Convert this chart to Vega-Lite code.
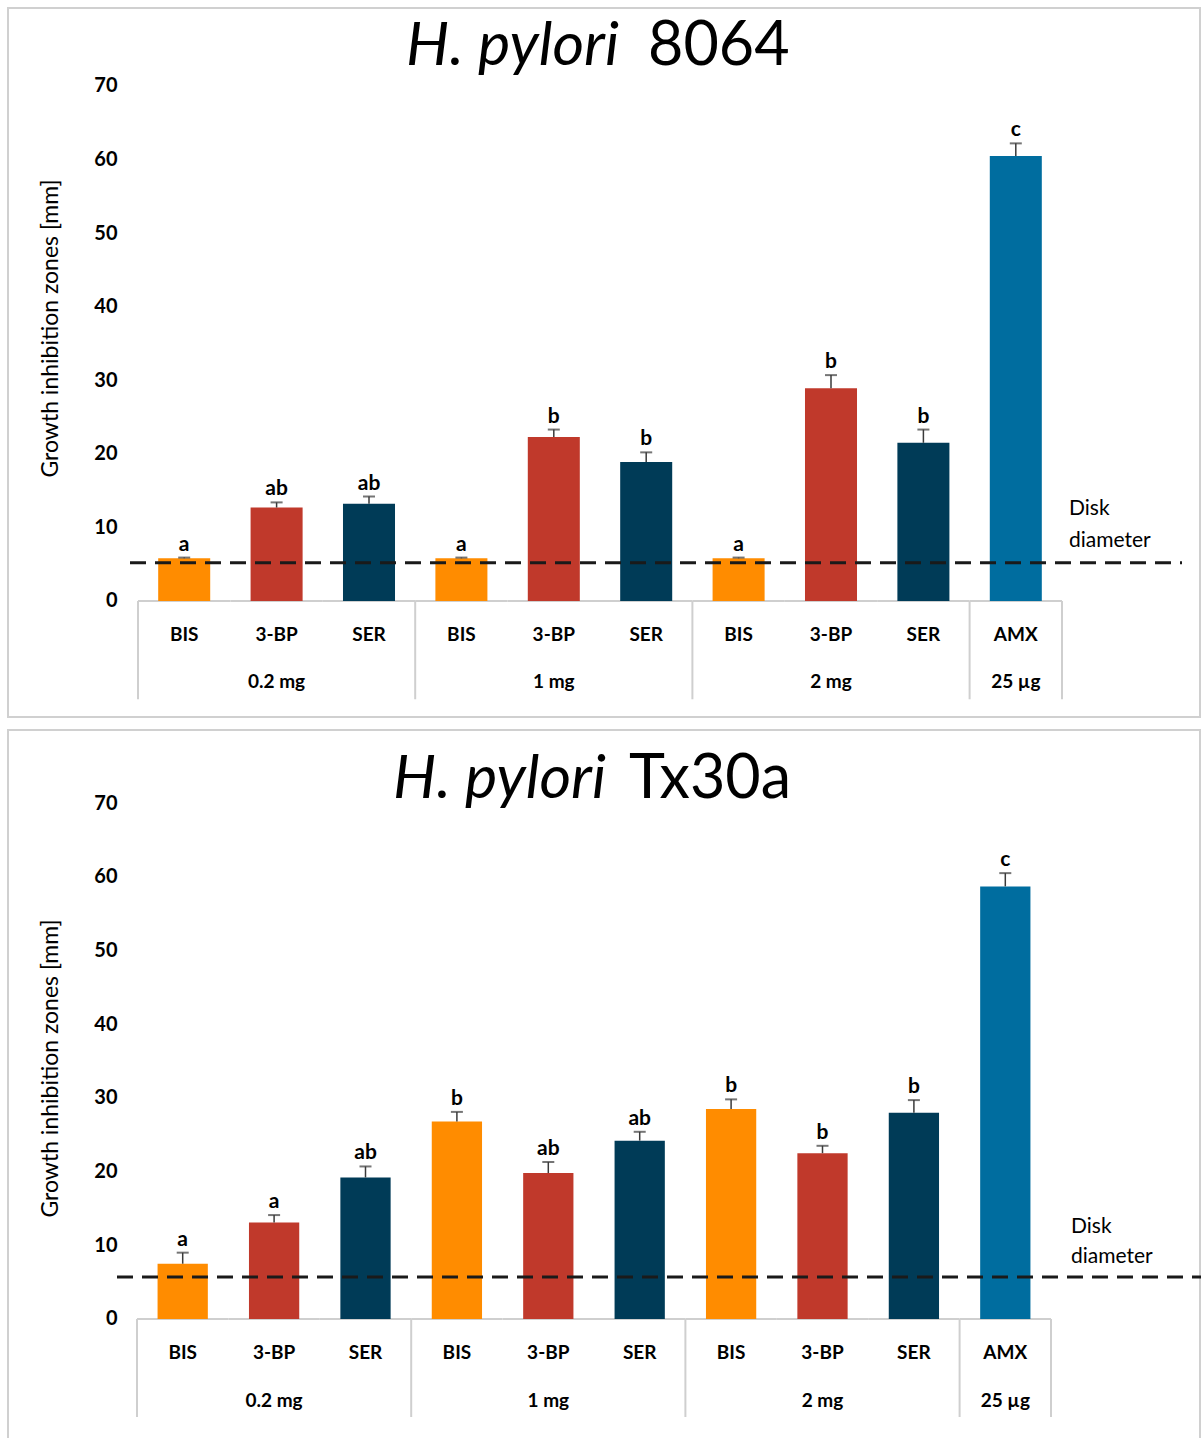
{
  "$schema": "https://vega.github.io/schema/vega-lite/v6.json",
  "padding": {"left": 7, "top": 7, "right": 0, "bottom": 0},
  "background": "white",
  "spacing": 11,
  "config": {
    "view": {"stroke": "#d0d0d0", "strokeWidth": 2},
    "font": "Lato"
  },
  "datasets": {
    "hp8064": [
      {"dose": "0.2 mg", "drug": "BIS", "key": "0.2 mg|BIS", "mean": 5.8, "upper": 5.9, "letter": "a"},
      {"dose": "0.2 mg", "drug": "3-BP", "key": "0.2 mg|3-BP", "mean": 12.7, "upper": 13.4, "letter": "ab"},
      {"dose": "0.2 mg", "drug": "SER", "key": "0.2 mg|SER", "mean": 13.2, "upper": 14.2, "letter": "ab"},
      {"dose": "1 mg", "drug": "BIS", "key": "1 mg|BIS", "mean": 5.8, "upper": 5.9, "letter": "a"},
      {"dose": "1 mg", "drug": "3-BP", "key": "1 mg|3-BP", "mean": 22.3, "upper": 23.3, "letter": "b"},
      {"dose": "1 mg", "drug": "SER", "key": "1 mg|SER", "mean": 18.9, "upper": 20.2, "letter": "b"},
      {"dose": "2 mg", "drug": "BIS", "key": "2 mg|BIS", "mean": 5.8, "upper": 5.9, "letter": "a"},
      {"dose": "2 mg", "drug": "3-BP", "key": "2 mg|3-BP", "mean": 28.9, "upper": 30.7, "letter": "b"},
      {"dose": "2 mg", "drug": "SER", "key": "2 mg|SER", "mean": 21.5, "upper": 23.3, "letter": "b"},
      {"dose": "25 µg", "drug": "AMX", "key": "25 µg|AMX", "mean": 60.5, "upper": 62.2, "letter": "c"}
    ],
    "tx30a": [
      {"dose": "0.2 mg", "drug": "BIS", "key": "0.2 mg|BIS", "mean": 7.5, "upper": 9.0, "letter": "a"},
      {"dose": "0.2 mg", "drug": "3-BP", "key": "0.2 mg|3-BP", "mean": 13.1, "upper": 14.1, "letter": "a"},
      {"dose": "0.2 mg", "drug": "SER", "key": "0.2 mg|SER", "mean": 19.2, "upper": 20.7, "letter": "ab"},
      {"dose": "1 mg", "drug": "BIS", "key": "1 mg|BIS", "mean": 26.8, "upper": 28.1, "letter": "b"},
      {"dose": "1 mg", "drug": "3-BP", "key": "1 mg|3-BP", "mean": 19.8, "upper": 21.3, "letter": "ab"},
      {"dose": "1 mg", "drug": "SER", "key": "1 mg|SER", "mean": 24.2, "upper": 25.4, "letter": "ab"},
      {"dose": "2 mg", "drug": "BIS", "key": "2 mg|BIS", "mean": 28.5, "upper": 29.8, "letter": "b"},
      {"dose": "2 mg", "drug": "3-BP", "key": "2 mg|3-BP", "mean": 22.5, "upper": 23.5, "letter": "b"},
      {"dose": "2 mg", "drug": "SER", "key": "2 mg|SER", "mean": 28.0, "upper": 29.7, "letter": "b"},
      {"dose": "25 µg", "drug": "AMX", "key": "25 µg|AMX", "mean": 58.7, "upper": 60.5, "letter": "c"}
    ],
    "disk8064": [{"label": "Disk diameter", "value": 5.2}],
    "diskTx30a": [{"label": "Disk diameter", "value": 5.7}]
  },
  "vconcat": [
    {
      "width": 1192,
      "height": 709,
      "title": {
        "text": "H. pylori",
        "subtitle": "8064",
        "anchor": "middle",
        "align": "left",
        "dx": 44,
        "offset": -70,
        "font": "Lato",
        "fontSize": 61,
        "fontStyle": "italic",
        "fontWeight": "normal",
        "color": "black",
        "subtitleFont": "Lato",
        "subtitleFontSize": 61,
        "subtitleFontStyle": "normal",
        "subtitleFontWeight": "normal",
        "subtitleColor": "black",
        "subtitlePadding": -61,
        "encoding": {"align": {"value": "right"}, "dx": {"value": 15}}
      },
      "data": {"name": "hp8064"},
      "layer": [
        {
          "mark": {"type": "rule", "color": "#cfcfcf", "strokeWidth": 2},
          "encoding": {
            "x": {"field": "key", "type": "nominal", "bandPosition": 0},
            "x2": {"field": "key", "bandPosition": 1},
            "y": {"datum": 0, "type": "quantitative"}
          }
        },
        {
          "transform": [{"filter": "datum.drug == 'BIS' || datum.drug == 'AMX'"}],
          "mark": {"type": "rule", "color": "#cfcfcf", "strokeWidth": 2},
          "encoding": {
            "x": {"field": "key", "type": "nominal", "bandPosition": 0},
            "y": {"datum": 0, "type": "quantitative"},
            "y2": {"datum": -13.36}
          }
        },
        {
          "transform": [{"filter": "datum.drug == 'AMX'"}],
          "mark": {"type": "rule", "color": "#cfcfcf", "strokeWidth": 2},
          "encoding": {
            "x": {"field": "key", "type": "nominal", "bandPosition": 1},
            "y": {"datum": 0, "type": "quantitative"},
            "y2": {"datum": -13.36}
          }
        },
        {
          "mark": {"type": "bar", "width": {"band": 0.563}},
          "encoding": {
            "x": {
              "field": "key",
              "type": "nominal",
              "scale": {
                "domain": ["0.2 mg|BIS", "0.2 mg|3-BP", "0.2 mg|SER", "1 mg|BIS", "1 mg|3-BP", "1 mg|SER", "2 mg|BIS", "2 mg|3-BP", "2 mg|SER", "25 µg|AMX"],
                "range": [130, 1054],
                "paddingInner": 0,
                "paddingOuter": 0
              },
              "axis": {
                "orient": "bottom",
                "offset": -116,
                "title": null,
                "domain": false,
                "ticks": false,
                "labelAngle": 0,
                "labelAlign": "center",
                "labelPadding": 33,
                "labelFont": "Lato",
                "labelFontSize": 19,
                "labelFontWeight": "bold",
                "labelColor": "black",
                "labelLineHeight": 47,
                "labelOverlap": false,
                "labelBound": false,
                "labelExpr": "indexof(['0.2 mg|3-BP','1 mg|3-BP','2 mg|3-BP','25 µg|AMX'], datum.value) >= 0 ? [split(datum.value, '|')[1], split(datum.value, '|')[0]] : split(datum.value, '|')[1]"
              }
            },
            "y": {
              "field": "mean",
              "type": "quantitative",
              "scale": {"domain": [-15.77, 80.6], "nice": false, "zero": false},
              "axis": {
                "values": [0, 10, 20, 30, 40, 50, 60, 70],
                "offset": -122,
                "domain": false,
                "ticks": false,
                "grid": false,
                "labelPadding": 13,
                "labelFont": "Lato",
                "labelFontSize": 20,
                "labelFontWeight": "bold",
                "labelColor": "black",
                "title": "Growth inhibition zones [mm]",
                "titleFont": "Lato",
                "titleFontSize": 23,
                "titleFontWeight": "normal",
                "titleColor": "black",
                "titleY": 320,
                "titleX": -73,
                "titleBaseline": "alphabetic"
              }
            },
            "color": {
              "field": "drug",
              "type": "nominal",
              "scale": {"domain": ["BIS", "3-BP", "SER", "AMX"], "range": ["#FF8C00", "#C0392B", "#003B57", "#006D9F"]},
              "legend": null
            }
          }
        },
        {
          "data": {"name": "disk8064"},
          "mark": {"type": "rule", "strokeDash": [16, 9], "strokeWidth": 3, "color": "#1a1a1a", "xOffset": -8, "x2Offset": 120},
          "encoding": {
            "x": {"datum": "0.2 mg|BIS", "type": "nominal", "bandPosition": 0},
            "x2": {"datum": "25 µg|AMX", "bandPosition": 1},
            "y": {"field": "value", "type": "quantitative"}
          }
        },
        {
          "data": {"name": "disk8064"},
          "mark": {"type": "text", "lineBreak": " ", "align": "left", "baseline": "alphabetic", "dx": 7, "dy": -48, "lineHeight": 32, "font": "Lato", "fontSize": 21, "color": "black"},
          "encoding": {
            "x": {"datum": "25 µg|AMX", "type": "nominal", "bandPosition": 1},
            "y": {"field": "value", "type": "quantitative"},
            "text": {"field": "label"}
          }
        },
        {
          "mark": {"type": "rule", "color": "#3a3a3a", "strokeWidth": 1.5},
          "encoding": {
            "x": {"field": "key", "type": "nominal"},
            "y": {"field": "mean", "type": "quantitative"},
            "y2": {"field": "upper"}
          }
        },
        {
          "mark": {"type": "tick", "orient": "horizontal", "size": 12, "thickness": 2, "color": "#3a3a3a"},
          "encoding": {
            "x": {"field": "key", "type": "nominal"},
            "y": {"field": "upper", "type": "quantitative"}
          }
        },
        {
          "mark": {"type": "text", "baseline": "alphabetic", "dy": -7, "font": "Lato", "fontSize": 21, "fontWeight": "bold", "color": "black"},
          "encoding": {
            "x": {"field": "key", "type": "nominal"},
            "y": {"field": "upper", "type": "quantitative"},
            "text": {"field": "letter"}
          }
        }
      ]
    },
    {
      "width": 1192,
      "height": 710,
      "title": {
        "text": "H. pylori",
        "subtitle": "Tx30a",
        "anchor": "middle",
        "align": "left",
        "dx": 25,
        "offset": -81,
        "font": "Lato",
        "fontSize": 61,
        "fontStyle": "italic",
        "fontWeight": "normal",
        "color": "black",
        "subtitleFont": "Lato",
        "subtitleFontSize": 61,
        "subtitleFontStyle": "normal",
        "subtitleFontWeight": "normal",
        "subtitleColor": "black",
        "subtitlePadding": -61,
        "encoding": {"align": {"value": "right"}, "dx": {"value": 2}}
      },
      "data": {"name": "tx30a"},
      "layer": [
        {
          "mark": {"type": "rule", "color": "#cfcfcf", "strokeWidth": 2},
          "encoding": {
            "x": {"field": "key", "type": "nominal", "bandPosition": 0},
            "x2": {"field": "key", "bandPosition": 1},
            "y": {"datum": 0, "type": "quantitative"}
          }
        },
        {
          "transform": [{"filter": "datum.drug == 'BIS' || datum.drug == 'AMX'"}],
          "mark": {"type": "rule", "color": "#cfcfcf", "strokeWidth": 2},
          "encoding": {
            "x": {"field": "key", "type": "nominal", "bandPosition": 0},
            "y": {"datum": 0, "type": "quantitative"},
            "y2": {"datum": -13.3}
          }
        },
        {
          "transform": [{"filter": "datum.drug == 'AMX'"}],
          "mark": {"type": "rule", "color": "#cfcfcf", "strokeWidth": 2},
          "encoding": {
            "x": {"field": "key", "type": "nominal", "bandPosition": 1},
            "y": {"datum": 0, "type": "quantitative"},
            "y2": {"datum": -13.3}
          }
        },
        {
          "mark": {"type": "bar", "width": {"band": 0.55}},
          "encoding": {
            "x": {
              "field": "key",
              "type": "nominal",
              "scale": {
                "domain": ["0.2 mg|BIS", "0.2 mg|3-BP", "0.2 mg|SER", "1 mg|BIS", "1 mg|3-BP", "1 mg|SER", "2 mg|BIS", "2 mg|3-BP", "2 mg|SER", "25 µg|AMX"],
                "range": [129, 1043],
                "paddingInner": 0,
                "paddingOuter": 0
              },
              "axis": {
                "orient": "bottom",
                "offset": -121,
                "title": null,
                "domain": false,
                "ticks": false,
                "labelAngle": 0,
                "labelAlign": "center",
                "labelPadding": 33,
                "labelFont": "Lato",
                "labelFontSize": 19,
                "labelFontWeight": "bold",
                "labelColor": "black",
                "labelLineHeight": 48,
                "labelOverlap": false,
                "labelBound": false,
                "labelExpr": "indexof(['0.2 mg|3-BP','1 mg|3-BP','2 mg|3-BP','25 µg|AMX'], datum.value) >= 0 ? [split(datum.value, '|')[1], split(datum.value, '|')[0]] : split(datum.value, '|')[1]"
              }
            },
            "y": {
              "field": "mean",
              "type": "quantitative",
              "scale": {"domain": [-16.42, 79.92], "nice": false, "zero": false},
              "axis": {
                "values": [0, 10, 20, 30, 40, 50, 60, 70],
                "offset": -122,
                "domain": false,
                "ticks": false,
                "grid": false,
                "labelPadding": 13,
                "labelFont": "Lato",
                "labelFontSize": 20,
                "labelFontWeight": "bold",
                "labelColor": "black",
                "title": "Growth inhibition zones [mm]",
                "titleFont": "Lato",
                "titleFontSize": 23,
                "titleFontWeight": "normal",
                "titleColor": "black",
                "titleY": 338,
                "titleX": -73,
                "titleBaseline": "alphabetic"
              }
            },
            "color": {
              "field": "drug",
              "type": "nominal",
              "scale": {"domain": ["BIS", "3-BP", "SER", "AMX"], "range": ["#FF8C00", "#C0392B", "#003B57", "#006D9F"]},
              "legend": null
            }
          }
        },
        {
          "data": {"name": "diskTx30a"},
          "mark": {"type": "rule", "strokeDash": [16, 9], "strokeWidth": 3, "color": "#1a1a1a", "xOffset": -20, "x2Offset": 150},
          "encoding": {
            "x": {"datum": "0.2 mg|BIS", "type": "nominal", "bandPosition": 0},
            "x2": {"datum": "25 µg|AMX", "bandPosition": 1},
            "y": {"field": "value", "type": "quantitative"}
          }
        },
        {
          "data": {"name": "diskTx30a"},
          "mark": {"type": "text", "lineBreak": " ", "align": "left", "baseline": "alphabetic", "dx": 20, "dy": -44, "lineHeight": 30, "font": "Lato", "fontSize": 21, "color": "black"},
          "encoding": {
            "x": {"datum": "25 µg|AMX", "type": "nominal", "bandPosition": 1},
            "y": {"field": "value", "type": "quantitative"},
            "text": {"field": "label"}
          }
        },
        {
          "mark": {"type": "rule", "color": "#3a3a3a", "strokeWidth": 1.5},
          "encoding": {
            "x": {"field": "key", "type": "nominal"},
            "y": {"field": "mean", "type": "quantitative"},
            "y2": {"field": "upper"}
          }
        },
        {
          "mark": {"type": "tick", "orient": "horizontal", "size": 12, "thickness": 2, "color": "#3a3a3a"},
          "encoding": {
            "x": {"field": "key", "type": "nominal"},
            "y": {"field": "upper", "type": "quantitative"}
          }
        },
        {
          "mark": {"type": "text", "baseline": "alphabetic", "dy": -7, "font": "Lato", "fontSize": 21, "fontWeight": "bold", "color": "black"},
          "encoding": {
            "x": {"field": "key", "type": "nominal"},
            "y": {"field": "upper", "type": "quantitative"},
            "text": {"field": "letter"}
          }
        }
      ]
    }
  ]
}
